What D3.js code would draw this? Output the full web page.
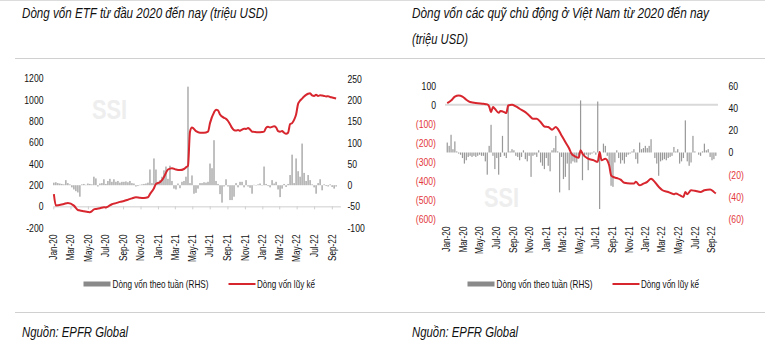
<!DOCTYPE html>
<html>
<head>
<meta charset="utf-8">
<script src="https://cdn.jsdelivr.net/npm/d3@7"></script>
<style>
body { margin: 0; background: #fff; }
text { font-family: "Liberation Sans", Arial, sans-serif; }
</style>
</head>
<body>
<div id="main"></div>
<script>
const ctx = {
    WIDTH: 765,
    HEIGHT: 344,
    BAR_COLOR: "#989898",
    LINE_COLOR: "#d7262e",
    NEG_COLOR: "#e3373c",
    RULE_COLOR: "#d9d9d9",
    TEXT_COLOR: "#111",
    NARROW: 0.8   // horizontal squeeze to mimic a narrow face
};

// x axis labels (every 2 months) and first weekly bar date
const tickLabels = ["Jan-20", "Mar-20", "May-20", "Jul-20", "Sep-20", "Nov-20", "Jan-21", "Mar-21", "May-21",
    "Jul-21", "Sep-21", "Nov-21", "Jan-22", "Mar-22", "May-22", "Jul-22", "Sep-22"];
const firstWeek = "2020-01-03";
const legendLabels = ["Dòng vốn theo tuần (RHS)", "Dòng vốn lũy kế"];

// chart 1 : ETF flows (weekly bars on RHS, cumulative line on LHS)
const etfLeftTicks = [-200, 0, 200, 400, 600, 800, 1000, 1200];
const etfRightTicks = [-100, -50, 0, 50, 100, 150, 200, 250];
const etfWeekly = [
    6, 7, 5, 4, 3, 2, 12, 5, 2,
    -5, -10, -14, -17, -27,
    2, 3, 1, 4, 3, 2,
    20, 16, -3, 4,
    5, 14, 3, 10, 15, 8, 14,
    8, 10, 6, 8, 8, 9, 7, 10, 5, 4,
    -3, -2, 1, 2, 3, 4, 6,
    37, 5, 63, 37, 8, 12,
    20, 35, 44, 15, 46, 10,
    -8, -10, 4, -7, 8, 10, 20,
    232, 5, 23, -20, -18, -8, 5, 5, 7, 6, 8,
    51, 40, 106, 10, 3,
    -21, -41, -3, 14,
    -3, -35, -35, -27,
    5, -5, 8, 8, -5, 12, -3, -6, -20, 1, -1, 2, 4, -1,
    44, 3, -2, -5, 12, 4, 8, -10, -28, -8, 3, -4, 3,
    24, 72, 5, 63, 33, 20, 98, 29, 10, 24, 12, 2, -5, -20, 5, 14, -12, 2, -2, -3, 2, -4, -8, -3
];
// [week index, cumulative value]
const etfCumulative = [
    [0, 115], [1, 8], [5, 23], [7, 32], [10, 7], [12, -34], [13, -38], [15, -45], [17, -52], [18, -55],
    [19, -45], [20, -28], [21, -25], [23, -18], [25, -8], [26, -10], [27, -2], [29, 20], [31, 30], [33, 42],
    [35, 50], [37, 62], [39, 75], [41, 85], [43, 80], [45, 78], [47, 85], [48, 115], [50, 170], [51, 210],
    [53, 226], [54, 245], [55, 275], [57, 345], [59, 358], [61, 345], [63, 340], [65, 350], [66, 365], [67, 380],
    [68, 700], [69, 740], [71, 705], [73, 690], [75, 690], [77, 700], [78, 780], [80, 880], [81, 905], [82, 900],
    [83, 860], [85, 830], [86, 820], [87, 800], [88, 770], [89, 735], [90, 715], [91, 710], [92, 715], [93, 708],
    [94, 720], [95, 728], [96, 725], [97, 735], [98, 720], [99, 700], [100, 698], [102, 695], [104, 697], [105, 700],
    [106, 735], [107, 745], [108, 740], [109, 745], [110, 750], [111, 740], [112, 705], [113, 700], [114, 705], [115, 690],
    [116, 680], [117, 690], [118, 770], [119, 780], [120, 810], [121, 860], [122, 960], [123, 990], [124, 1010], [125, 1030],
    [126, 1045], [127, 1055], [128, 1060], [129, 1040], [130, 1035], [131, 1045], [132, 1035], [133, 1040], [134, 1038], [135, 1035],
    [136, 1030], [137, 1032], [138, 1025], [139, 1020], [140, 1015], [141, 1010]
];

// chart 2 : active funds in Vietnam
const activeLeftTicks = [-600, -500, -400, -300, -200, -100, 0, 100];
const activeRightTicks = [-60, -40, -20, 0, 20, 40, 60];
const activeWeekly = [
    9, 6, 16, 3, 10, 1, -1, -2, -5, -10, -7, -4, -3, -4, -3, -4, -3, -2, -3,
    -3, -8, -20, 6, 25, -3, -15, -5, -20, -4, 15, -3, -5, 43, 1, 3,
    2, -3, -4, -7, -4, 2, -6, -8, -3, -22, -3, -2, -4, 2, -9, -12, -15, -5, -12, -17,
    2, 4, 15, 1, -36, -4, -24, -22, -10, -34, -10, -8, -9, -9, -3, 47, -25, -3,
    -2, -16, -2, -1, 1, -2, 46, -51, 0, 8, 6, -3, -10, -30, -31, -9, 2, -5, -10, -7,
    -10, -4, -2, -1, 1, 3, -6, -10, 9, 3, 4, 6, 4, 6, 12, 0, -5, -10, -21, -8,
    -7, -6, -7, -5, -4, -3, 5, 1, 3, -10, -8, -5, 29, -8, -12, -9, 15, 1, 0, -2,
    -3, 1, 8, 2, 3, -4, -7, -6, -3
];
const activeCumulative = [
    [0, 8], [2, 22], [4, 43], [6, 49], [8, 43], [10, 26], [12, 14], [16, 8], [19, 5], [21, 2],
    [22, -9], [23, -39], [24, -12], [25, -21], [27, -42], [28, -33], [30, -39], [31, -44], [32, -4], [34, 0],
    [36, -9], [38, -21], [41, -39], [43, -56], [45, -73], [47, -73], [49, -91], [51, -114], [53, -117], [55, -131],
    [57, -117], [58, -126], [60, -161], [62, -196], [64, -230], [65, -253], [67, -271], [69, -278], [70, -239], [71, -257],
    [74, -283], [77, -292], [79, -300], [80, -248], [81, -292], [83, -283], [85, -318], [86, -370], [87, -379], [89, -385],
    [91, -393], [93, -410], [96, -414], [98, -414], [99, -405], [101, -423], [103, -414], [105, -405], [107, -388], [108, -395],
    [111, -431], [113, -449], [116, -458], [119, -470], [120, -466], [122, -475], [124, -484], [125, -458], [126, -470], [128, -449],
    [130, -452], [133, -458], [135, -449], [138, -445], [140, -458], [141, -466]
];

const parseMonth = d3.timeParse("%b-%y");
const weekDates = etfWeekly.map((d, i) => d3.timeDay.offset(new Date(firstWeek + "T00:00"), 7 * i));

const charts = [
    {
        id: "etf", weekly: etfWeekly, cumulative: etfCumulative,
        leftTicks: etfLeftTicks, rightTicks: etfRightTicks,
        xRange: [53.3, 340.4], yLeftRange: [227.7, 78.3], yRightRange: [227.7, 79],
        leftAxisX: 43.5, rightAxisX: 347.5, labelTop: 234.5,
        axisOnLeftZero: true, accounting: false,
        rule: null, watermark: [92, 119],
        title: [["Dòng vốn ETF từ đầu 2020 đến nay (triệu USD)", 246]], titleX: 22,
        legendX: 83.5, sourceX: 22
    },
    {
        id: "active", weekly: activeWeekly, cumulative: activeCumulative,
        leftTicks: activeLeftTicks, rightTicks: activeRightTicks,
        xRange: [446.7, 719.9], yLeftRange: [219, 85.7], yRightRange: [219, 86],
        leftAxisX: 436, rightAxisX: 728.5, labelTop: 226.5,
        axisOnLeftZero: false, accounting: true,
        rule: [445, 718], watermark: [484, 207],
        title: [["Dòng vốn các quỹ chủ động ở Việt Nam từ 2020 đến nay", 297], ["(triệu USD)", 56]], titleX: 412,
        legendX: 467.5, sourceX: 412
    }
];

function tickText(d, accounting) {
    if (accounting && d < 0) return `(${-d})`;
    return String(d);
}

// fixed-width text, squeezed to the width
function fitText(g, x, y, str, width, size, italic) {
    return g.append("text")
        .attr("x", x).attr("y", y)
        .attr("font-size", size)
        .attr("font-style", italic ? "italic" : null)
        .attr("fill", ctx.TEXT_COLOR)
        .attr("textLength", width)
        .attr("lengthAdjust", "spacingAndGlyphs")
        .text(str);
}

function drawChart(svg, c) {
    const g = svg.append("g").attr("id", c.id);
    const x = d3.scaleTime()
        .domain([new Date(2020, 0, 1), new Date(2022, 9, 1)])
        .range(c.xRange);
    const yL = d3.scaleLinear().domain(d3.extent(c.leftTicks)).range(c.yLeftRange);
    const yR = d3.scaleLinear().domain(d3.extent(c.rightTicks)).range(c.yRightRange);
    const tickDates = tickLabels.map(parseMonth);

    // watermark
    g.append("text")
        .attr("transform", `translate(${c.watermark[0]},${c.watermark[1]}) scale(0.78,1)`)
        .attr("font-size", 28).attr("font-weight", "bold")
        .attr("fill", "#eeeeee")
        .text("SSI");

    // light zero rule for the left axis (chart 2)
    if (c.rule) {
        g.append("line")
            .attr("x1", c.rule[0]).attr("x2", c.rule[1])
            .attr("y1", yL(0)).attr("y2", yL(0))
            .attr("stroke", ctx.RULE_COLOR).attr("stroke-width", 2);
    }

    // category axis line with small ticks (chart 1)
    if (c.axisOnLeftZero) {
        const xAxis = d3.axisBottom(x).tickValues(tickDates).tickSize(3).tickSizeOuter(0).tickFormat("");
        const ax = g.append("g").attr("transform", `translate(0,${yL(0)})`).call(xAxis);
        ax.selectAll("path, line").attr("stroke", "#cfcfcf");
    }

    // weekly bars on the right axis
    const bw = 1.2;
    g.append("g").selectAll("rect")
        .data(c.weekly)
        .join("rect")
        .attr("x", (d, i) => x(weekDates[i]) - bw / 2)
        .attr("y", d => yR(Math.max(0, d)))
        .attr("width", bw)
        .attr("height", d => Math.abs(yR(d) - yR(0)))
        .attr("fill", ctx.BAR_COLOR);

    // cumulative line on the left axis
    const line = d3.line()
        .x(d => x(weekDates[d[0]]))
        .y(d => yL(d[1]))
        .curve(d3.curveMonotoneX);
    g.append("path")
        .datum(c.cumulative)
        .attr("d", line)
        .attr("fill", "none")
        .attr("stroke", ctx.LINE_COLOR)
        .attr("stroke-width", 2)
        .attr("stroke-linejoin", "round");

    // y axes
    const leftAxis = d3.axisLeft(yL).tickValues(c.leftTicks).tickSize(0).tickPadding(0)
        .tickFormat(d => tickText(d, c.accounting));
    const la = g.append("g").attr("transform", `translate(${c.leftAxisX},0)`).call(leftAxis);
    const rightAxis = d3.axisRight(yR).tickValues(c.rightTicks).tickSize(0).tickPadding(0)
        .tickFormat(d => tickText(d, c.accounting));
    const ra = g.append("g").attr("transform", `translate(${c.rightAxisX},0)`).call(rightAxis);
    [la, ra].forEach(a => {
        a.select(".domain").remove();
        a.selectAll("text")
            .attr("font-size", 10.8)
            .attr("font-family", null)
            .attr("transform", `scale(${ctx.NARROW},1)`)
            .attr("fill", d => (c.accounting && d < 0) ? ctx.NEG_COLOR : ctx.TEXT_COLOR);
    });

    // rotated month labels at the bottom
    g.append("g").selectAll("text")
        .data(tickDates)
        .join("text")
        .attr("transform", d => `translate(${x(d) + 3.7},${c.labelTop}) rotate(-90) scale(${ctx.NARROW},1)`)
        .attr("text-anchor", "end")
        .attr("font-size", 10.3)
        .attr("fill", ctx.TEXT_COLOR)
        .text((d, i) => tickLabels[i]);

    // title
    c.title.forEach(([t, w], i) => fitText(g, c.titleX, 17.5 + i * 26, t, w, 14, true));

    // legend
    const lg = g.append("g").attr("transform", `translate(${c.legendX},284)`);
    lg.append("rect").attr("x", 0).attr("y", -2.5).attr("width", 27).attr("height", 5).attr("fill", "#8a8a8a");
    fitText(lg, 29, 4, legendLabels[0], 96, 11.5, false);
    lg.append("line").attr("x1", 145).attr("x2", 172).attr("y1", 0).attr("y2", 0)
        .attr("stroke", ctx.LINE_COLOR).attr("stroke-width", 2);
    fitText(lg, 173.5, 4, legendLabels[1], 58, 11.5, false);

    // source
    fitText(g, c.sourceX, 337, "Nguồn: EPFR Global", 106, 14, true);
}

function createViz() {
    const svg = d3.select("#main").append("svg")
        .attr("width", ctx.WIDTH)
        .attr("height", ctx.HEIGHT);
    svg.append("rect").attr("width", ctx.WIDTH).attr("height", ctx.HEIGHT).attr("fill", "#fff");
    // frame rules
    svg.append("line").attr("x1", 0).attr("x2", ctx.WIDTH).attr("y1", 0.5).attr("y2", 0.5)
        .attr("stroke", "#dcdcdc");
    [58.5, 312.5].forEach(y => {
        svg.append("line").attr("x1", 15).attr("x2", ctx.WIDTH).attr("y1", y).attr("y2", y)
            .attr("stroke", "#d0d0d0");
    });
    charts.forEach(c => drawChart(svg, c));
}

createViz();
</script>
</body>
</html>
